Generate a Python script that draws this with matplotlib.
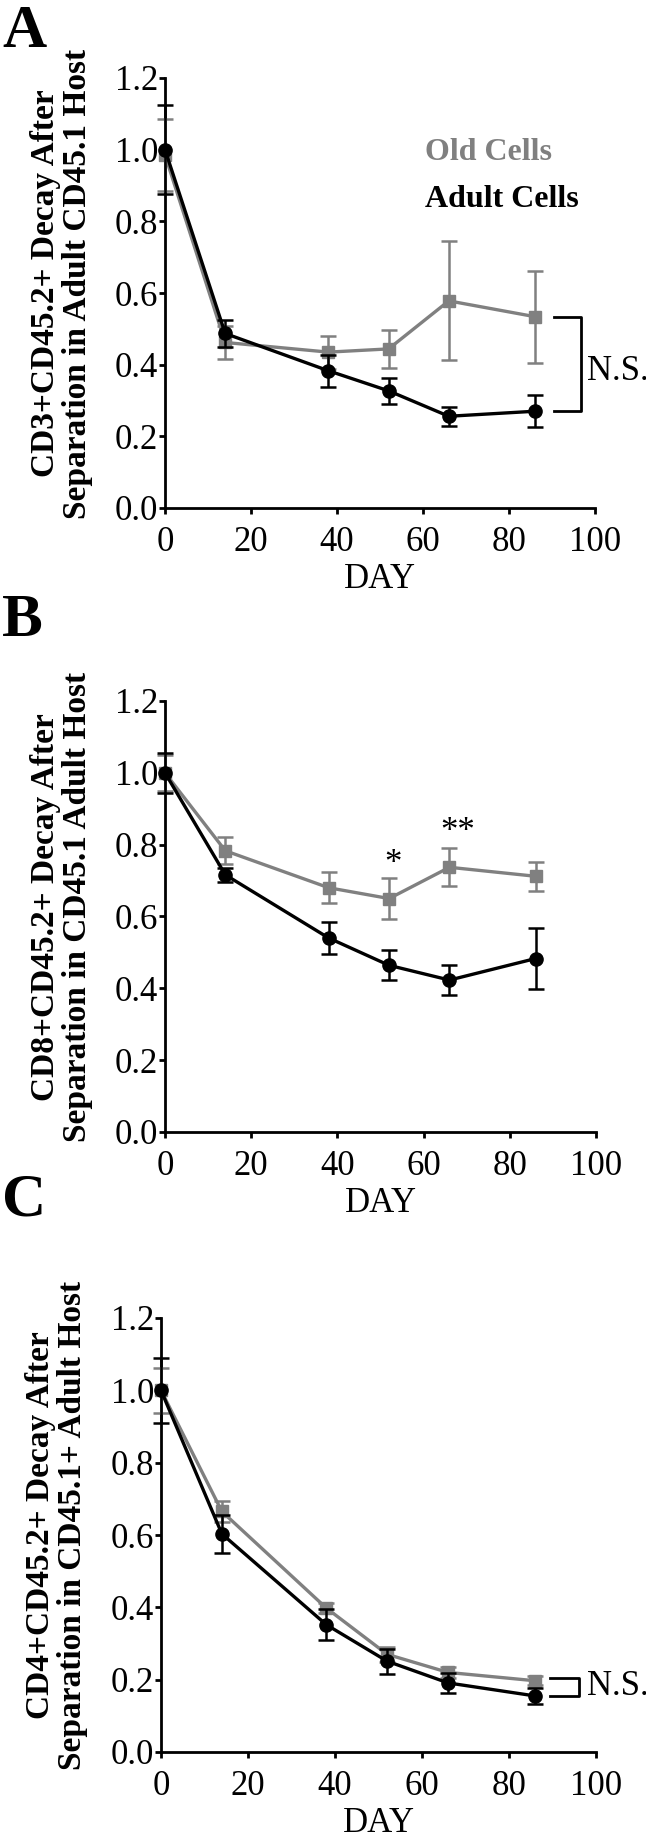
import matplotlib
matplotlib.use("Agg")
import matplotlib.pyplot as plt
import numpy as np

plt.rcParams['font.family'] = ['Liberation Serif', 'DejaVu Serif']

days = [0, 14, 38, 52, 66, 86]
x_ticks = [0, 20, 40, 60, 80, 100]
y_ticks = [0.0, 0.2, 0.4, 0.6, 0.8, 1.0, 1.2]

# Panel A (CD3+)
a_old = [0.985, 0.462, 0.435, 0.444, 0.578, 0.534]
a_old_err = [0.10, 0.045, 0.046, 0.053, 0.166, 0.128]
a_adult = [1.0, 0.487, 0.383, 0.327, 0.256, 0.270]
a_adult_err = [0.124, 0.038, 0.044, 0.036, 0.027, 0.044]

# Panel B (CD8+)
b_old = [1.0, 0.783, 0.680, 0.650, 0.737, 0.712]
b_old_err = [0.05, 0.037, 0.043, 0.056, 0.053, 0.040]
b_adult = [1.0, 0.716, 0.540, 0.464, 0.423, 0.483]
b_adult_err = [0.055, 0.020, 0.045, 0.042, 0.041, 0.086]

# Panel C (CD4+)
c_old = [1.0, 0.665, 0.398, 0.270, 0.220, 0.197]
c_old_err = [0.063, 0.030, 0.015, 0.020, 0.015, 0.012]
c_adult = [1.0, 0.603, 0.352, 0.251, 0.191, 0.155]
c_adult_err = [0.090, 0.052, 0.043, 0.035, 0.027, 0.023]

ylabels = ["CD3+CD45.2+ Decay After\nSeparation in Adult CD45.1 Host",
           "CD8+CD45.2+ Decay After\nSeparation in CD45.1 Adult Host",
           "CD4+CD45.2+ Decay After\nSeparation in CD45.1+ Adult Host"]
letters = ["A", "B", "C"]

GREY = '#808080'
FS = 25

W, H = 646, 1837
fig = plt.figure(figsize=(W / 100, H / 100), dpi=100)

# axes boxes in pixels: (left, top, right, bottom)
boxes = [(165, 78, 595, 508), (165, 701, 596, 1132), (161, 1318, 596, 1752)]
axes = []
for (l, t, r, b) in boxes:
    ax = fig.add_axes([l / W, 1 - b / H, (r - l) / W, (b - t) / H])
    axes.append(ax)

data = [(a_old, a_old_err, a_adult, a_adult_err),
        (b_old, b_old_err, b_adult, b_adult_err),
        (c_old, c_old_err, c_adult, c_adult_err)]


def draw(ax, y, e, color, marker, ms, z):
    cont = ax.errorbar(days, y, yerr=e, color=color, ecolor=color, marker=marker,
                       markersize=ms, lw=2.4, elinewidth=1.8, capsize=5.5, capthick=1.8,
                       zorder=z)
    for art in cont.get_children():
        art.set_clip_on(False)


for i, ax in enumerate(axes):
    old, old_e, ad, ad_e = data[i]
    draw(ax, old, old_e, GREY, 's', 8.5, 3)
    draw(ax, ad, ad_e, 'black', 'o', 9.5, 4)
    ax.set_xlim(0, 100)
    ax.set_ylim(0, 1.2)
    ax.set_xticks(x_ticks)
    ax.set_yticks(y_ticks)
    ax.set_yticklabels([f"{v:.1f}" for v in y_ticks])
    for s in ['top', 'right']:
        ax.spines[s].set_visible(False)
    for s in ['left', 'bottom']:
        ax.spines[s].set_linewidth(2.0)
    ax.tick_params(axis='both', width=2.0, length=4, labelsize=FS, direction='out')
    ax.tick_params(axis='y', pad=1)
    ax.tick_params(axis='x', pad=9)
    hpx = boxes[i][3] - boxes[i][1]
    ax.text(0.5, -71 / hpx, "DAY", transform=ax.transAxes, ha='center', va='center',
            fontsize=FS)
    ax.text(-0.24, 0.522, ylabels[i], transform=ax.transAxes, rotation=90,
            ha='center', va='center', fontsize=24, fontweight='bold',
            multialignment='center', linespacing=1.05)

# Panel letters
fig.text(2 / W, 1 - 4 / H, "A", fontsize=44, fontweight='bold', ha='left', va='top')
fig.text(2 / W, 1 - 593 / H, "B", fontsize=44, fontweight='bold', ha='left', va='top')
fig.text(2 / W, 1 - 1172 / H, "C", fontsize=44, fontweight='bold', ha='left', va='top')

# Legend text in panel A
axA, axB, axC = axes
axA.text(60.5, 0.993, "Old Cells", color=GREY, fontsize=23, fontweight='bold',
         ha='left', va='center')
axA.text(60.5, 0.86, "Adult Cells", color='black', fontsize=23, fontweight='bold',
         ha='left', va='center')

# N.S. bracket panel A
axA.plot([90.5, 96.7, 96.7, 90.5], [a_old[-1], a_old[-1], a_adult[-1], a_adult[-1]],
         color='black', lw=2.0, clip_on=False)
axA.text(98.1, 0.38, "N.S.", fontsize=FS, ha='left', va='center', clip_on=False)

# Stars panel B
axB.text(53, 0.745, "*", fontsize=FS, ha='center', va='center')
axB.text(67.9, 0.834, "**", fontsize=FS, ha='center', va='center')

# N.S. bracket panel C
axC.plot([89.4, 96.0, 96.0, 89.4], [c_old[-1] + 0.008, c_old[-1] + 0.008, c_adult[-1], c_adult[-1]],
         color='black', lw=2.0, clip_on=False)
axC.text(97.9, 0.18, "N.S.", fontsize=FS, ha='left', va='center', clip_on=False)

fig.savefig("out.png", dpi=100)
